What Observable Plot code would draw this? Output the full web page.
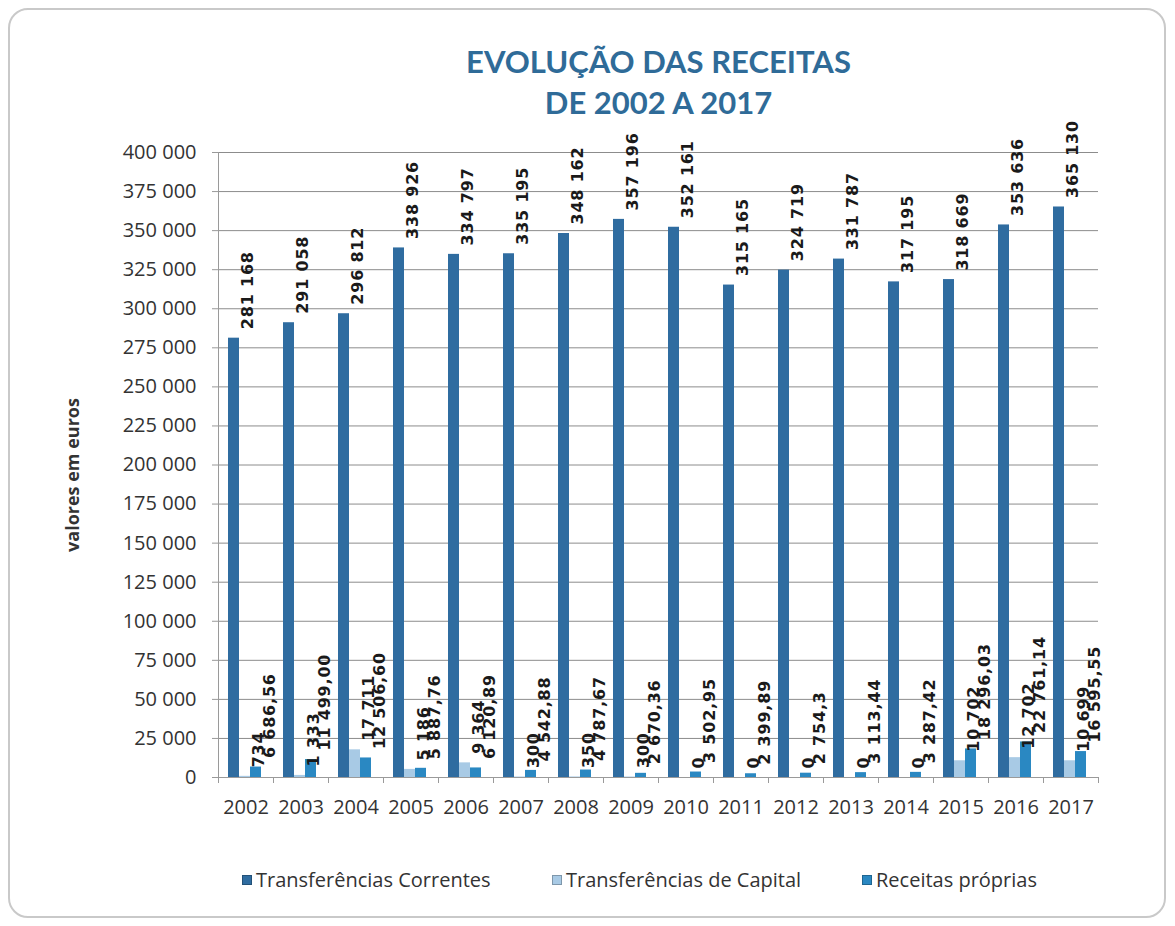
<!DOCTYPE html>
<html>
<head>
<meta charset="utf-8">
<script src="https://cdn.jsdelivr.net/npm/d3@7"></script>
<script src="https://cdn.jsdelivr.net/npm/@observablehq/plot@0.6"></script>
<style>
  html, body { margin: 0; padding: 0; background: #fff; }
  #wrap { position: relative; width: 1175px; height: 926px; overflow: hidden; background: #fff; }
  #border { position: absolute; left: 8px; top: 8px; width: 1158px; height: 910px; border: 2px solid #c9c9c9; border-radius: 20px; box-sizing: border-box; }
  #title { position: absolute; left: 0; width: 1175px; top: 41px; padding-left: 142px; box-sizing: border-box; text-align: center; font-family: Lato, "Open Sans", sans-serif; font-weight: 700; font-size: 31px; line-height: 41px; color: #2f6b98; }
  #ylabel { position: absolute; left: 72px; top: 475px; transform: translate(-50%, -50%) rotate(-90deg); font-family: "Open Sans", sans-serif; font-weight: 700; font-size: 18px; color: #333; white-space: nowrap; }
  #chart { position: absolute; left: 0; top: 0; }
  #legend { position: absolute; top: 866px; left: 0; width: 1175px; font-family: "Open Sans", sans-serif; font-size: 20px; color: #333; }
  .item { position: absolute; top: 0; display: flex; align-items: center; white-space: nowrap; }
  .sw { width: 10px; height: 10px; margin-right: 4px; box-sizing: border-box; border: 1px solid rgba(0,0,0,0.25); }
</style>
</head>
<body>
<div id="wrap">
  <div id="border"></div>
  <div id="chart"></div>
  <div id="title">EVOLUÇÃO DAS RECEITAS<br>DE 2002 A 2017</div>
  <div id="ylabel">valores em euros</div>
  <div id="legend"></div>
</div>
<script>
const years = ["2002","2003","2004","2005","2006","2007","2008","2009","2010","2011","2012","2013","2014","2015","2016","2017"];
const series = ["Transferências Correntes", "Transferências de Capital", "Receitas próprias"];
const correntes = [281168, 291058, 296812, 338926, 334797, 335195, 348162, 357196, 352161, 315165, 324719, 331787, 317195, 318669, 353636, 365130];
const capital = [734, 1333, 17711, 5186, 9364, 300, 350, 300, 0, 0, 0, 0, 0, 10702, 12702, 10699];
const proprias = [6686.56, 11499.00, 12506.60, 5887.76, 6120.89, 4542.88, 4787.67, 2670.36, 3502.95, 2399.89, 2754.3, 3113.44, 3287.42, 18296.03, 22761.14, 16595.55];
const propriasLabels = ["6 686,56", "11 499,00", "12 506,60", "5 887,76", "6 120,89", "4 542,88", "4 787,67", "2 670,36", "3 502,95", "2 399,89", "2 754,3", "3 113,44", "3 287,42", "18 296,03", "22 761,14", "16 595,55"];
const yTicks = [0, 25000, 50000, 75000, 100000, 125000, 150000, 175000, 200000, 225000, 250000, 275000, 300000, 325000, 350000, 375000, 400000];
const colors = ["#2f6ca0", "#a8cae5", "#2a88c2"];

const fmt = n => d3.format(",")(n).replace(/,/g, " ");

const data = [];
years.forEach((yr, i) => {
  data.push({year: yr, series: series[0], value: correntes[i], label: fmt(correntes[i])});
  data.push({year: yr, series: series[1], value: capital[i], label: fmt(capital[i])});
  data.push({year: yr, series: series[2], value: proprias[i], label: propriasLabels[i]});
});

const W = 1175, H = 830;
const plot = Plot.plot({
  width: W,
  height: H,
  marginLeft: 211,
  marginRight: 70,
  marginTop: 152,
  marginBottom: 53,
  style: {fontFamily: "'Open Sans', sans-serif", fontSize: "20px", color: "#333", background: "transparent"},
  fx: {domain: years, padding: 0, tickSize: 0, tickPadding: 22, label: null, axis: "bottom"},
  x: {domain: series, paddingInner: 0, paddingOuter: 0.85, align: 0.45, axis: null},
  y: {domain: [0, 400000], axis: null},
  color: {domain: series, range: colors},
  marks: [
    Plot.gridY(yTicks, {stroke: "#8c8c8c", strokeOpacity: 1, strokeWidth: 1}),
    Plot.axisY({ticks: yTicks, tickFormat: fmt, tickSize: 6, tickPadding: 16, label: null, stroke: "#999", fill: "#333", fontSize: 20}),
    Plot.barY(data, {fx: "year", x: "series", y: "value", fill: "series"}),
    Plot.ruleY([0], {stroke: "#9a9a9a"}),
    Plot.text(data, {fx: "year", x: "series", y: "value", text: "label", rotate: -90, textAnchor: "start", dx: 14, dy: -9, fontFamily: "DejaVu Sans", fontWeight: "bold", fontSize: 16, fill: "#1a1a1a"})
  ]
});

document.getElementById("chart").appendChild(plot);

// decorations derived from the plot's own scales
const svg = d3.select(plot);
const fx = plot.scale("fx"), y = plot.scale("y");
const y0 = y.apply(0), yTop = y.apply(400000);
const g = svg.append("g").attr("stroke", "#9a9a9a").attr("stroke-width", 1);
const x0 = fx.apply(years[0]);
g.append("line").attr("x1", x0 + 0.5).attr("x2", x0 + 0.5).attr("y1", yTop).attr("y2", y0);
const bounds = years.map(yr => fx.apply(yr)).concat([fx.apply(years[years.length - 1]) + fx.bandwidth]);
bounds.forEach(b => g.append("line").attr("x1", b + 0.5).attr("x2", b + 0.5).attr("y1", y0).attr("y2", y0 + 6));
svg.selectAll("text").filter(function() { return this.getAttribute("transform") && this.getAttribute("transform").includes("rotate"); }).attr("letter-spacing", "0.8");

// legend
const legend = document.getElementById("legend");
const legendX = [242, 552, 862];
series.forEach((s, i) => {
  const item = document.createElement("div");
  item.className = "item";
  item.style.left = legendX[i] + "px";
  const sw = document.createElement("span");
  sw.className = "sw";
  sw.style.background = colors[i];
  const t = document.createElement("span");
  t.textContent = s;
  item.appendChild(sw);
  item.appendChild(t);
  legend.appendChild(item);
});
</script>
</body>
</html>
